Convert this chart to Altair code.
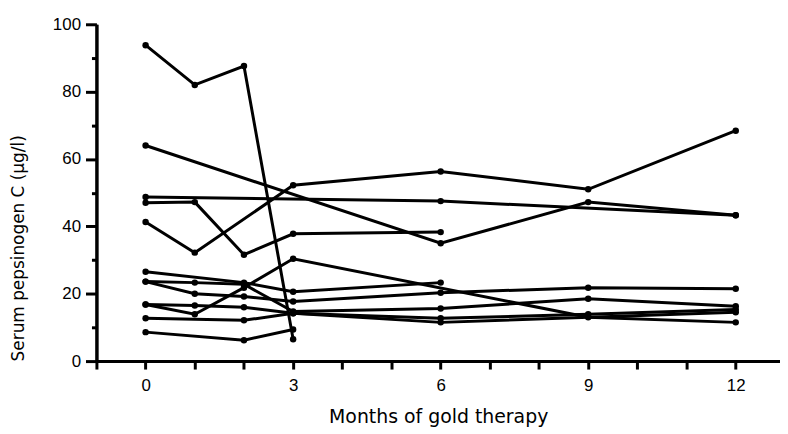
import altair as alt
import pandas as pd

# Each patient's series: months and serum pepsinogen C (ug/l)
A_months = [0, 1, 2, 3]
A_values = [93.8, 82.0, 87.6, 6.5]
B_months = [0, 6, 9, 12]
B_values = [64.0, 35.0, 47.2, 43.3]
C_months = [0, 6, 12]
C_values = [48.7, 47.5, 43.3]
D_months = [0, 1, 2, 3, 6]
D_values = [47.0, 47.2, 31.6, 37.8, 38.3]
E_months = [0, 1, 3, 6, 9, 12]
E_values = [41.3, 32.2, 52.2, 56.3, 51.0, 68.4]
F_months = [0, 2, 3, 6]
F_values = [26.5, 23.3, 20.6, 23.3]
G_months = [0, 1, 2, 3, 6, 9, 12]
G_values = [23.6, 23.3, 22.8, 14.7, 15.6, 18.5, 16.3]
H_months = [0, 1, 2, 3, 6, 9, 12]
H_values = [23.6, 20.0, 19.2, 17.7, 20.3, 21.8, 21.5]
I_months = [0, 1, 2, 3, 6, 9, 12]
I_values = [16.8, 16.5, 16.0, 14.2, 12.7, 13.9, 15.3]
J_months = [0, 1, 2, 3, 9, 12]
J_values = [16.8, 13.9, 21.8, 30.4, 13.0, 11.5]
K_months = [0, 2, 3, 6, 12]
K_values = [12.7, 12.1, 14.2, 11.5, 14.5]
L_months = [0, 2, 3]
L_values = [8.6, 6.2, 9.4]

series = {
    "A": (A_months, A_values), "B": (B_months, B_values), "C": (C_months, C_values),
    "D": (D_months, D_values), "E": (E_months, E_values), "F": (F_months, F_values),
    "G": (G_months, G_values), "H": (H_months, H_values), "I": (I_months, I_values),
    "J": (J_months, J_values), "K": (K_months, K_values), "L": (L_months, L_values),
}

x_tick_values = list(range(-1, 13))
y_major_values = [0, 20, 40, 60, 80, 100]
y_minor_values = [10, 30, 50, 70, 90]

rows = []
for sid, (ms, vs) in series.items():
    for m, v in zip(ms, vs):
        rows.append({"patient": sid, "month": m, "value": v})
df = pd.DataFrame(rows)

xscale = alt.Scale(domain=[-1, 12.9], nice=False, zero=False)
yscale = alt.Scale(domain=[0, 100], nice=False)

x_axis = alt.Axis(
    values=x_tick_values,
    labelExpr="datum.value >= 0 && datum.value % 3 == 0 ? datum.label : ''",
    grid=False, tickSize=8, tickWidth=3, tickColor="black",
    domainColor="black", domainWidth=3,
    labelFont="Liberation Sans", labelFontSize=17, labelColor="black", labelPadding=9,
    title="Months of gold therapy", titleFont="DejaVu Sans", titleFontSize=19,
    titleFontWeight="normal", titleColor="black",
    titleBaseline="alphabetic", titleY=62,
)

y_major = alt.Axis(
    values=y_major_values, orient="left", grid=False,
    tickSize=11, tickWidth=3, tickColor="black",
    domainColor="black", domainWidth=3,
    labelFont="Liberation Sans", labelFontSize=17, labelColor="black", labelPadding=5,
    title="Serum pepsinogen C (\u03bcg/l)", titleFont="DejaVu Sans", titleFontSize=17,
    titleFontWeight="normal", titleColor="black",
    titleBaseline="alphabetic", titleAngle=270, titleX=-73, titleY=225,
)

y_minor = alt.Axis(
    values=y_minor_values, orient="left", grid=False, labels=False,
    tickSize=5, tickWidth=3, tickColor="black",
    domainColor="black", domainWidth=3, title="",
)

base = alt.Chart(df)

lines = base.mark_line(color="black", strokeWidth=3).encode(
    x=alt.X("month:Q", scale=xscale, axis=x_axis),
    y=alt.Y("value:Q", scale=yscale, axis=y_major),
    detail="patient:N",
)

points = base.mark_circle(color="black", opacity=1, size=42).encode(
    x=alt.X("month:Q", scale=xscale),
    y=alt.Y("value:Q", scale=yscale, axis=y_minor),
)

chart = alt.layer(lines, points).resolve_axis(y="independent").properties(
    width=688, height=339,
    autosize=alt.AutoSizeParams(type="none"),
    padding={"left": 89, "top": 15, "right": 0, "bottom": 74},
    background="white",
).configure_view(stroke=None)

chart.save("out.html", embed_options={"renderer": "svg", "actions": False})
